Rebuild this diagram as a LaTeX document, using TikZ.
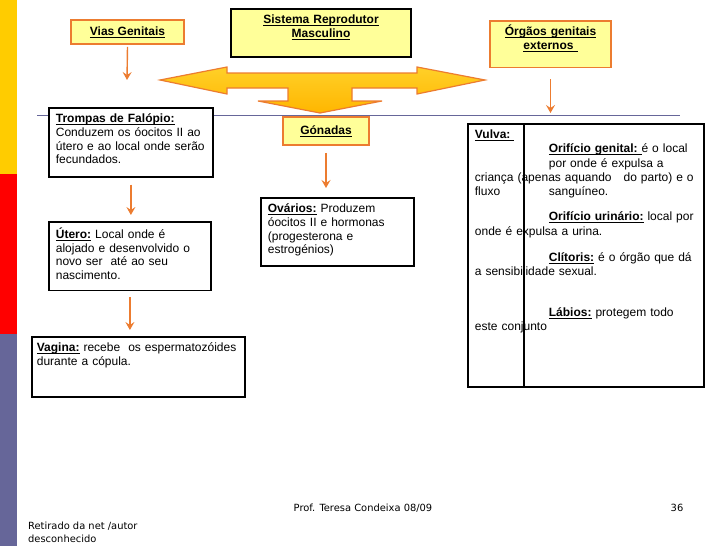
\documentclass[tikz,border=0pt]{standalone}
\usepackage{fontspec}
\usepackage{amsmath}
\setmainfont{Liberation Sans}
\newfontfamily\rodape{DejaVu Sans}
\usetikzlibrary{arrows.meta}

\definecolor{laranja}{RGB}{236,124,48}
\definecolor{amarelo}{RGB}{255,255,153}
\definecolor{ouro}{RGB}{255,182,0}
\definecolor{ouroclaro}{RGB}{255,208,40}
\definecolor{lilas}{RGB}{102,102,153}
\definecolor{faixaamarela}{RGB}{255,204,0}
\definecolor{faixavermelha}{RGB}{255,0,0}

\newcommand{\sublinha}[1]{\underline{\smash[b]{#1}}}

\begin{document}
\begin{tikzpicture}[x=1pt,y=-1pt,
  every node/.style={font=\fontsize{12}{13.7}\selectfont},
  titulo/.style={draw=laranja,line width=1.6pt,fill=amarelo,align=center,inner sep=0pt},
  caixa/.style={draw=black,line width=1.8pt,fill=white,anchor=north west,align=left,inner xsep=7pt,inner ysep=6pt},
  seta/.style={draw=laranja,line width=1.4pt,-{Stealth[length=8pt,width=9pt,inset=3pt]}},
  rodape/.style={font=\rodape\fontsize{9.9}{13}\selectfont}]

\useasboundingbox (0,0) rectangle (728,546);

% faixa lateral
\fill[faixaamarela] (0,0) rectangle (17,174);
\fill[faixavermelha] (0,174) rectangle (17,334);
\fill[lilas] (0,334) rectangle (17,546);

% linha horizontal
\draw[lilas,line width=1pt] (37,115) -- (680,115);

% seta de tres pontas
\draw[laranja,line width=1.2pt,top color=ouroclaro,bottom color=ouro]
  (160,80) -- (227,67) -- (227,73) -- (417,73) -- (417,67) -- (485,80)
  -- (417,94) -- (417,88) -- (352,88) -- (352,101) -- (382,101) -- (320,113)
  -- (258,101) -- (288,101) -- (288,88) -- (227,88) -- (227,94) -- cycle;

% titulos
\node[titulo,minimum width=113,minimum height=24] (vias) at (127.5,32) {\textbf{\sublinha{Vias Genitais}}};
\node[titulo,draw=black,line width=2.4pt,anchor=north,text width=170pt,minimum width=180,inner ysep=6pt,text depth=27pt] (sistema) at (321,8)
  {\textbf{\sublinha{Sistema Reprodutor}}\\\textbf{\sublinha{Masculino}}};
\node[titulo,anchor=north,text width=121pt,inner ysep=4pt,text depth=28pt] (orgaos) at (550.5,20)
  {\textbf{\sublinha{Órgãos genitais}}\\\textbf{\sublinha{externos\ }}};
\node[titulo,minimum width=86,minimum height=28] (gonadas) at (326,131) {\textbf{\sublinha{Gónadas}}};

% caixas
\node[caixa,text width=150pt,text depth=48pt] (trompas) at (48,107)
  {\textbf{\sublinha{Trompas de Falópio:}}\\Conduzem os óocitos II ao\\útero e ao local onde serão\\fecundados.};
\node[caixa,text width=148pt,text depth=46pt] (utero) at (48,221)
  {\textbf{\sublinha{Útero:}} Local onde é\\alojado e desenvolvido o\\novo ser\ \ até ao seu\\nascimento.};
\node[caixa,text width=203pt,text depth=39pt,inner xsep=5pt] (vagina) at (31,336)
  {\mbox{\textbf{\sublinha{Vagina:}} recebe\ \ os espermatozóides}\\durante a cópula.};
\node[caixa,text width=139pt,text depth=47pt] (ovarios) at (260,197)
  {\textbf{\sublinha{Ovários:}} Produzem\\óocitos II e hormonas\\(progesterona e\\estrogénios)};
\node[caixa,text width=222pt,text depth=242pt,font=\fontsize{12}{14.3}\selectfont] (vulva) at (467,123)
  {\textbf{\sublinha{Vulva:\ }}\\
   \hspace*{74pt}\textbf{\sublinha{Orifício genital:\ }}é o local\\
   \hspace*{74pt}por onde é expulsa a\\
   criança (apenas aquando\ \ \ do parto) e o\\
   \makebox[74pt][l]{fluxo}sanguíneo.\\[10.7pt]
   \hspace*{74pt}\textbf{\sublinha{Orifício urinário:}} local por\\
   onde é expulsa a urina.\\[11.7pt]
   \hspace*{74pt}\textbf{\sublinha{Clítoris:}} é o órgão que dá\\
   a sensibilidade sexual.\\[26.7pt]
   \hspace*{74pt}\textbf{\sublinha{Lábios:}} protegem todo\\
   este conjunto};
\coordinate (divisoria) at (524,0);
\draw[line width=1.2pt] (vulva.north -| divisoria) -- (vulva.south -| divisoria);

% setas
\coordinate (viasfim) at (127,80);
\coordinate (orgaosfim) at (553,113);
\draw[seta] ([yshift=-2pt]vias.south) -- (viasfim);
\draw[seta] ([yshift=-11pt]orgaos.south) -- (orgaos.south |- orgaosfim);
\draw[seta] ([yshift=-7pt]trompas.south) -- ([yshift=6pt]trompas.south |- utero.north);
\draw[seta] ([yshift=-6pt]utero.south) -- ([yshift=6pt]utero.south |- vagina.north);
\draw[seta] ([yshift=-7pt]gonadas.south) -- ([yshift=9pt]gonadas.south |- ovarios.north);

% rodape
\node[rodape] (prof) at (363,508) {Prof. Teresa Condeixa 08/09};
\node[rodape] (pagina) at (677,508) {36};
\node[rodape,anchor=north west,align=left,inner sep=0pt] (fonte) at (28,522) {Retirado da net /autor\\desconhecido};
\end{tikzpicture}
\end{document}
